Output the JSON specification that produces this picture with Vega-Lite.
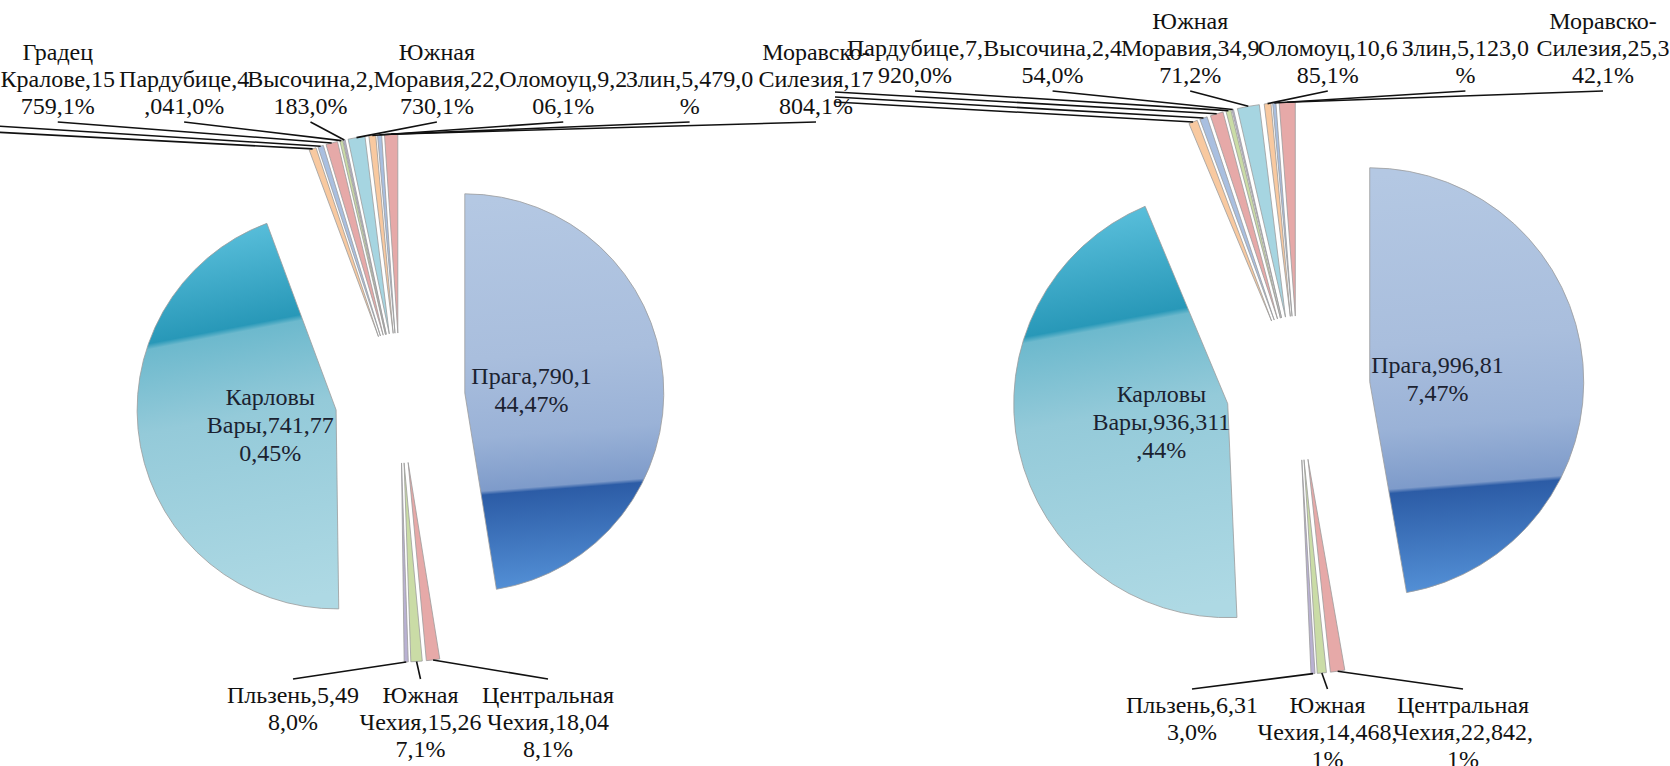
{
  "$schema": "https://vega.github.io/schema/vega-lite/v6.json",
  "width": 1670,
  "height": 766,
  "autosize": {"type": "none"},
  "padding": 0,
  "background": "white",
  "config": {"view": {"stroke": null}, "text": {"font": "Liberation Serif"}},
  "datasets": {
    "p1": [
      {"region": "Прага", "value": 790144, "label": "Прага,790,1\n44,47%"},
      {"region": "Центральная Чехия", "value": 18048, "label": "Центральная\nЧехия,18,04\n8,1%"},
      {"region": "Южная Чехия", "value": 15267, "label": "Южная\nЧехия,15,26\n7,1%"},
      {"region": "Пльзень", "value": 5498, "label": "Пльзень,5,49\n8,0%"},
      {"region": "Карловы Вары", "value": 741770, "label": "Карловы\nВары,741,77\n0,45%"},
      {"region": "Усти-над-Лабем", "value": 9600, "label": "Усти-над-\nЛабем,9,60\n0,1%"},
      {"region": "Либерец", "value": 7400, "label": "Либерец,7,4\n00,0%"},
      {"region": "Градец Кралове", "value": 15759, "label": "Градец\nКралове,15\n759,1%"},
      {"region": "Пардубице", "value": 4041, "label": "Пардубице,4\n,041,0%"},
      {"region": "Высочина", "value": 2183, "label": "Высочина,2,\n183,0%"},
      {"region": "Южная Моравия", "value": 22730, "label": "Южная\nМоравия,22,\n730,1%"},
      {"region": "Оломоуц", "value": 9206, "label": "Оломоуц,9,2\n06,1%"},
      {"region": "Злин", "value": 5479, "label": "Злин,5,479,0\n%"},
      {"region": "Моравско-Силезия", "value": 17804, "label": "Моравско-\nСилезия,17\n804,1%"}
    ],
    "p2": [
      {"region": "Прага", "value": 996817, "label": "Прага,996,81\n7,47%"},
      {"region": "Центральная Чехия", "value": 22842, "label": "Центральная\nЧехия,22,842,\n1%"},
      {"region": "Южная Чехия", "value": 14468, "label": "Южная\nЧехия,14,468,\n1%"},
      {"region": "Пльзень", "value": 6313, "label": "Пльзень,6,31\n3,0%"},
      {"region": "Карловы Вары", "value": 936311, "label": "Карловы\nВары,936,311\n,44%"},
      {"region": "Усти-над-Лабем", "value": 14000, "label": "Усти-над-\nЛабем,14,00\n0,1%"},
      {"region": "Либерец", "value": 12000, "label": "Либерец,12,\n000,1%"},
      {"region": "Градец Кралове", "value": 20600, "label": "Градец\nКралове,20,6\n00,1%"},
      {"region": "Пардубице", "value": 7920, "label": "Пардубице,7,\n920,0%"},
      {"region": "Высочина", "value": 2454, "label": "Высочина,2,4\n54,0%"},
      {"region": "Южная Моравия", "value": 34971, "label": "Южная\nМоравия,34,9\n71,2%"},
      {"region": "Оломоуц", "value": 10685, "label": "Оломоуц,10,6\n85,1%"},
      {"region": "Злин", "value": 5123, "label": "Злин,5,123,0\n%"},
      {"region": "Моравско-Силезия", "value": 25342, "label": "Моравско-\nСилезия,25,3\n42,1%"}
    ]
  },
  "layer": [
    {
      "data": {"name": "p1"},
      "transform": [
        {"joinaggregate": [{"op": "sum", "field": "value", "as": "total"}]},
        {"window": [{"op": "sum", "field": "value", "as": "cum"}]}
      ],
      "mark": {
        "type": "arc", "outerRadius": 199, "stroke": "#9c9c9c", "strokeWidth": 0.8,
        "x": {"expr": "400 + 65*sin(2*PI*(datum.cum - datum.value/2)/datum.total)"},
        "y": {"expr": "398 - 65*cos(2*PI*(datum.cum - datum.value/2)/datum.total)"}
      },
      "encoding": {
        "theta": {"field": "value", "type": "quantitative", "stack": true},
        "order": {"field": "cum", "type": "quantitative"},
        "color": {
          "condition": [
            {"test": "datum.region === 'Прага'", "value": {"gradient": "linear", "x1": 0.48, "y1": 0, "x2": 0.52, "y2": 1, "stops": [{"offset": 0, "color": "#b4c8e3"}, {"offset": 0.4, "color": "#a9bedd"}, {"offset": 0.6, "color": "#9ab2d7"}, {"offset": 0.735, "color": "#7e9bca"}, {"offset": 0.745, "color": "#2c5ca6"}, {"offset": 1, "color": "#5592d8"}]}},
            {"test": "datum.region === 'Карловы Вары'", "value": {"gradient": "linear", "x1": 0.45, "y1": 0, "x2": 0.55, "y2": 1, "stops": [{"offset": 0, "color": "#5bc0dc"}, {"offset": 0.27, "color": "#2898b8"}, {"offset": 0.285, "color": "#6db9cd"}, {"offset": 0.5, "color": "#94cad9"}, {"offset": 1, "color": "#aed9e4"}]}}
          ],
          "field": "region", "type": "nominal", "legend": null,
          "scale": {
            "domain": ["Прага", "Центральная Чехия", "Южная Чехия", "Пльзень", "Карловы Вары", "Усти-над-Лабем", "Либерец", "Градец Кралове", "Пардубице", "Высочина", "Южная Моравия", "Оломоуц", "Злин", "Моравско-Силезия"],
            "range": ["#a9bedd", "#e6a9a8", "#cadca6", "#b9b1d2", "#a6d5e1", "#f8c9a0", "#a9bfe0", "#e6a9a8", "#cadca6", "#b9b1d2", "#a6d5e1", "#f8c9a0", "#a9bfe0", "#e6a9a8"]
          }
        }
      }
    },
    {
      "data": {"name": "p1"},
      "transform": [
        {"window": [{"op": "sum", "field": "value", "as": "cum"}]}
      ],
      "mark": {"type": "text", "x": 400, "y": 398, "radius": 132, "fontSize": 24, "lineHeight": 28, "lineBreak": "\n", "align": "center", "baseline": "middle", "color": "#1b2230",
        "dy": {"expr": "4 - 14*(length(split(datum.label, '\\n')) - 1)"}},
      "encoding": {
        "theta": {"field": "value", "type": "quantitative", "stack": true},
        "order": {"field": "cum", "type": "quantitative"},
        "text": {"condition": {"test": "datum.value > 300000", "field": "label"}, "value": ""}
      }
    },
    {
      "data": {"name": "p1"},
      "transform": [
        {"joinaggregate": [{"op": "sum", "field": "value", "as": "total"}]},
        {"window": [{"op": "sum", "field": "value", "as": "cum"}]},
        {"filter": {"field": "region", "oneOf": ["Усти-над-Лабем", "Либерец", "Градец Кралове", "Пардубице", "Высочина", "Южная Моравия", "Оломоуц", "Злин", "Моравско-Силезия"]}}
      ],
      "mark": {"type": "rule", "color": "#111111", "strokeWidth": 1.6},
      "encoding": {
        "x": {"field": "region", "type": "nominal", "axis": null, "scale": {"type": "point", "padding": 0, "range": [-195, 816], "domain": ["Усти-над-Лабем", "Либерец", "Градец Кралове", "Пардубице", "Высочина", "Южная Моравия", "Оломоуц", "Злин", "Моравско-Силезия"]}},
        "y": {"value": 122},
        "x2": {"value": {"expr": "400 + 264*sin(2*PI*(datum.cum - datum.value/2)/datum.total)"}},
        "y2": {"value": {"expr": "398 - 264*cos(2*PI*(datum.cum - datum.value/2)/datum.total)"}}
      }
    },
    {
      "data": {"name": "p1"},
      "transform": [
        {"filter": {"field": "region", "oneOf": ["Усти-над-Лабем", "Либерец", "Градец Кралове", "Пардубице", "Высочина", "Южная Моравия", "Оломоуц", "Злин", "Моравско-Силезия"]}}
      ],
      "mark": {"type": "text", "fontSize": 24, "lineHeight": 27, "lineBreak": "\n", "align": "center", "baseline": "bottom", "color": "#111111",
        "dy": {"expr": "-27*(length(split(datum.label, '\\n')) - 1)"}},
      "encoding": {
        "x": {"field": "region", "type": "nominal", "axis": null, "scale": {"type": "point", "padding": 0, "range": [-195, 816], "domain": ["Усти-над-Лабем", "Либерец", "Градец Кралове", "Пардубице", "Высочина", "Южная Моравия", "Оломоуц", "Злин", "Моравско-Силезия"]}},
        "y": {"value": 119},
        "text": {"field": "label"}
      }
    },
    {
      "data": {"name": "p1"},
      "transform": [
        {"joinaggregate": [{"op": "sum", "field": "value", "as": "total"}]},
        {"window": [{"op": "sum", "field": "value", "as": "cum"}]},
        {"filter": {"field": "region", "oneOf": ["Пльзень", "Южная Чехия", "Центральная Чехия"]}}
      ],
      "mark": {"type": "rule", "color": "#111111", "strokeWidth": 1.6},
      "encoding": {
        "x": {"field": "region", "type": "nominal", "axis": null, "scale": {"type": "point", "padding": 0, "range": [293, 548], "domain": ["Пльзень", "Южная Чехия", "Центральная Чехия"]}},
        "y": {"value": 679},
        "x2": {"value": {"expr": "400 + 264*sin(2*PI*(datum.cum - datum.value/2)/datum.total)"}},
        "y2": {"value": {"expr": "398 - 264*cos(2*PI*(datum.cum - datum.value/2)/datum.total)"}}
      }
    },
    {
      "data": {"name": "p1"},
      "transform": [
        {"filter": {"field": "region", "oneOf": ["Пльзень", "Южная Чехия", "Центральная Чехия"]}}
      ],
      "mark": {"type": "text", "fontSize": 24, "lineHeight": 27, "lineBreak": "\n", "align": "center", "baseline": "top", "color": "#111111"},
      "encoding": {
        "x": {"field": "region", "type": "nominal", "axis": null, "scale": {"type": "point", "padding": 0, "range": [293, 548], "domain": ["Пльзень", "Южная Чехия", "Центральная Чехия"]}},
        "y": {"value": 684},
        "text": {"field": "label"}
      }
    },
    {
      "data": {"name": "p2"},
      "transform": [
        {"joinaggregate": [{"op": "sum", "field": "value", "as": "total"}]},
        {"window": [{"op": "sum", "field": "value", "as": "cum"}]}
      ],
      "mark": {
        "type": "arc", "outerRadius": 214, "stroke": "#9c9c9c", "strokeWidth": 0.8,
        "x": {"expr": "1298 + 72*sin(2*PI*(datum.cum - datum.value/2)/datum.total)"},
        "y": {"expr": "388 - 72*cos(2*PI*(datum.cum - datum.value/2)/datum.total)"}
      },
      "encoding": {
        "theta": {"field": "value", "type": "quantitative", "stack": true},
        "order": {"field": "cum", "type": "quantitative"},
        "color": {
          "condition": [
            {"test": "datum.region === 'Прага'", "value": {"gradient": "linear", "x1": 0.48, "y1": 0, "x2": 0.52, "y2": 1, "stops": [{"offset": 0, "color": "#b4c8e3"}, {"offset": 0.4, "color": "#a9bedd"}, {"offset": 0.6, "color": "#9ab2d7"}, {"offset": 0.74, "color": "#7e9bca"}, {"offset": 0.75, "color": "#2c5ca6"}, {"offset": 1, "color": "#5592d8"}]}},
            {"test": "datum.region === 'Карловы Вары'", "value": {"gradient": "linear", "x1": 0.45, "y1": 0, "x2": 0.55, "y2": 1, "stops": [{"offset": 0, "color": "#5bc0dc"}, {"offset": 0.275, "color": "#2898b8"}, {"offset": 0.29, "color": "#6db9cd"}, {"offset": 0.5, "color": "#94cad9"}, {"offset": 1, "color": "#aed9e4"}]}}
          ],
          "field": "region", "type": "nominal", "legend": null,
          "scale": {
            "domain": ["Прага", "Центральная Чехия", "Южная Чехия", "Пльзень", "Карловы Вары", "Усти-над-Лабем", "Либерец", "Градец Кралове", "Пардубице", "Высочина", "Южная Моравия", "Оломоуц", "Злин", "Моравско-Силезия"],
            "range": ["#a9bedd", "#e6a9a8", "#cadca6", "#b9b1d2", "#a6d5e1", "#f8c9a0", "#a9bfe0", "#e6a9a8", "#cadca6", "#b9b1d2", "#a6d5e1", "#f8c9a0", "#a9bfe0", "#e6a9a8"]
          }
        }
      }
    },
    {
      "data": {"name": "p2"},
      "transform": [
        {"window": [{"op": "sum", "field": "value", "as": "cum"}]}
      ],
      "mark": {"type": "text", "x": 1298, "y": 388, "radius": 140, "fontSize": 24, "lineHeight": 28, "lineBreak": "\n", "align": "center", "baseline": "middle", "color": "#1b2230",
        "dy": {"expr": "4 - 14*(length(split(datum.label, '\\n')) - 1)"}},
      "encoding": {
        "theta": {"field": "value", "type": "quantitative", "stack": true},
        "order": {"field": "cum", "type": "quantitative"},
        "text": {"condition": {"test": "datum.value > 300000", "field": "label"}, "value": ""}
      }
    },
    {
      "data": {"name": "p2"},
      "transform": [
        {"joinaggregate": [{"op": "sum", "field": "value", "as": "total"}]},
        {"window": [{"op": "sum", "field": "value", "as": "cum"}]},
        {"filter": {"field": "region", "oneOf": ["Усти-над-Лабем", "Либерец", "Градец Кралове"]}}
      ],
      "mark": {"type": "rule", "color": "#111111", "strokeWidth": 1.6},
      "encoding": {
        "x": {"value": 835},
        "y": {"field": "region", "type": "nominal", "axis": null, "scale": {"type": "point", "padding": 0, "range": [102, 92], "domain": ["Усти-над-Лабем", "Либерец", "Градец Кралове"]}},
        "x2": {"value": {"expr": "1298 + 286*sin(2*PI*(datum.cum - datum.value/2)/datum.total)"}},
        "y2": {"value": {"expr": "388 - 286*cos(2*PI*(datum.cum - datum.value/2)/datum.total)"}}
      }
    },
    {
      "data": {"name": "p2"},
      "transform": [
        {"joinaggregate": [{"op": "sum", "field": "value", "as": "total"}]},
        {"window": [{"op": "sum", "field": "value", "as": "cum"}]},
        {"filter": {"field": "region", "oneOf": ["Пардубице", "Высочина", "Южная Моравия", "Оломоуц", "Злин", "Моравско-Силезия"]}}
      ],
      "mark": {"type": "rule", "color": "#111111", "strokeWidth": 1.6},
      "encoding": {
        "x": {"field": "region", "type": "nominal", "axis": null, "scale": {"type": "point", "padding": 0, "range": [915, 1603], "domain": ["Пардубице", "Высочина", "Южная Моравия", "Оломоуц", "Злин", "Моравско-Силезия"]}},
        "y": {"value": 91},
        "x2": {"value": {"expr": "1298 + 286*sin(2*PI*(datum.cum - datum.value/2)/datum.total)"}},
        "y2": {"value": {"expr": "388 - 286*cos(2*PI*(datum.cum - datum.value/2)/datum.total)"}}
      }
    },
    {
      "data": {"name": "p2"},
      "transform": [
        {"filter": {"field": "region", "oneOf": ["Пардубице", "Высочина", "Южная Моравия", "Оломоуц", "Злин", "Моравско-Силезия"]}}
      ],
      "mark": {"type": "text", "fontSize": 24, "lineHeight": 27, "lineBreak": "\n", "align": "center", "baseline": "bottom", "color": "#111111",
        "dy": {"expr": "-27*(length(split(datum.label, '\\n')) - 1)"}},
      "encoding": {
        "x": {"field": "region", "type": "nominal", "axis": null, "scale": {"type": "point", "padding": 0, "range": [915, 1603], "domain": ["Пардубице", "Высочина", "Южная Моравия", "Оломоуц", "Злин", "Моравско-Силезия"]}},
        "y": {"value": 88},
        "text": {"field": "label"}
      }
    },
    {
      "data": {"name": "p2"},
      "transform": [
        {"joinaggregate": [{"op": "sum", "field": "value", "as": "total"}]},
        {"window": [{"op": "sum", "field": "value", "as": "cum"}]},
        {"filter": {"field": "region", "oneOf": ["Пльзень", "Южная Чехия", "Центральная Чехия"]}}
      ],
      "mark": {"type": "rule", "color": "#111111", "strokeWidth": 1.6},
      "encoding": {
        "x": {"field": "region", "type": "nominal", "axis": null, "scale": {"type": "point", "padding": 0, "range": [1192, 1463], "domain": ["Пльзень", "Южная Чехия", "Центральная Чехия"]}},
        "y": {"value": 689},
        "x2": {"value": {"expr": "1298 + 286*sin(2*PI*(datum.cum - datum.value/2)/datum.total)"}},
        "y2": {"value": {"expr": "388 - 286*cos(2*PI*(datum.cum - datum.value/2)/datum.total)"}}
      }
    },
    {
      "data": {"name": "p2"},
      "transform": [
        {"filter": {"field": "region", "oneOf": ["Пльзень", "Южная Чехия", "Центральная Чехия"]}}
      ],
      "mark": {"type": "text", "fontSize": 24, "lineHeight": 27, "lineBreak": "\n", "align": "center", "baseline": "top", "color": "#111111"},
      "encoding": {
        "x": {"field": "region", "type": "nominal", "axis": null, "scale": {"type": "point", "padding": 0, "range": [1192, 1463], "domain": ["Пльзень", "Южная Чехия", "Центральная Чехия"]}},
        "y": {"value": 694},
        "text": {"field": "label"}
      }
    }
  ],
  "resolve": {"scale": {"theta": "independent", "x": "independent", "y": "independent", "color": "independent"}}
}
